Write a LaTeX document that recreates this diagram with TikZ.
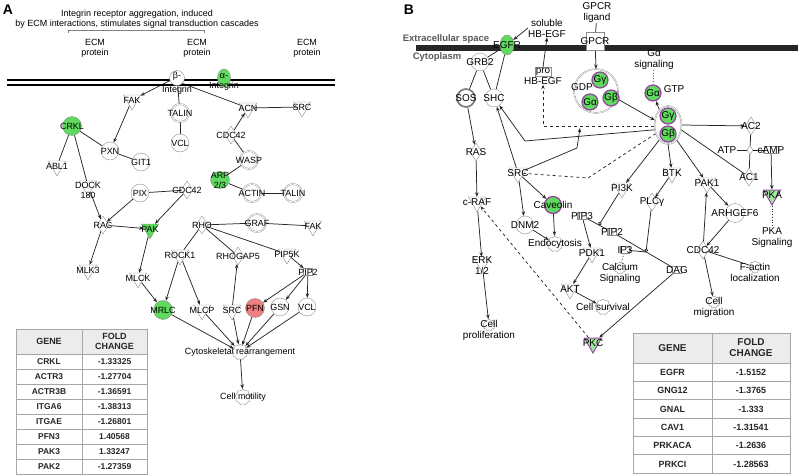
\documentclass[tikz,border=0pt]{standalone}
\usepackage{fontspec}
\setmainfont{Liberation Sans}
\usetikzlibrary{shapes.geometric,shapes.symbols,arrows.meta,backgrounds}
\definecolor{dngreen}{RGB}{95,218,95}
\definecolor{upred}{RGB}{238,128,128}
\definecolor{ringpurple}{RGB}{150,70,160}
\definecolor{nodegray}{RGB}{140,140,140}
\def\nfont{\fontsize{9}{10}\selectfont}
\def\bnf{\fontsize{10}{11}\selectfont}
\tikzset{
  every label/.style={font=\nfont, text=black, inner sep=0, align=center},
  txt/.style={font=\nfont, text=black, inner sep=0, align=center},
  cir/.style={circle, draw=nodegray, fill=white, minimum size=18, inner sep=0},
  cplx/.style={cir, double, double distance=0.8pt},
  tri/.style={regular polygon, regular polygon sides=3, shape border rotate=180, draw=nodegray, fill=white, minimum size=20, inner sep=0},
  dia/.style={diamond, draw=nodegray, fill=white, minimum width=12, minimum height=18, inner sep=0},
  chem/.style={rectangle, draw=nodegray, fill=white, minimum width=9, minimum height=7, inner sep=0},
  gear/.style={cloud, cloud puffs=9, cloud puff arc=140, aspect=1, draw=nodegray, fill=white, minimum size=16, inner sep=0},
  gprot/.style={circle, draw=ringpurple, line width=1.3, fill=dngreen, minimum size=16, inner sep=0},
  line/.style={draw=black!85, line width=0.75},
  act/.style={line, -{Stealth[length=4.5pt,width=3.5pt]}},
  dact/.style={act, dashed},
  cend/.style={line, -{Circle[open,length=3.5pt]}},
  tabh/.style={font=\bfseries\fontsize{9}{10}\selectfont, text=black!85, align=center, inner sep=0},
  tabv/.style={font=\bfseries\fontsize{8.5}{9}\selectfont, text=black!85, inner sep=0},
  frame/.style={draw=gray!70, line width=0.8}
}
\begin{document}
\begin{tikzpicture}[x=1bp, y=-1bp]
\useasboundingbox (0,0) rectangle (800,475);

% panel A: integrin signalling
\node[font=\bfseries\fontsize{14}{14}\selectfont] (pa) at (8,10) {A};
\node[txt] (title) at (137,19) {Integrin receptor aggregation, induced\\by ECM interactions, stimulates signal transduction cascades};
\draw[line, gray] (68,33) -- (68,30) -- (204,30) -- (204,33);
\node[txt] (ecm1) at (95,48) {ECM\\protein};
\node[txt] (ecm2) at (197,48) {ECM\\protein};
\node[txt] (ecm3) at (307,48) {ECM\\protein};
\draw[line width=1.4] (7,80) -- (335,80);
\draw[line width=1.4] (7,85) -- (335,85);

\node[cir, minimum size=15, label={[yshift=2]center:β-}, label={below:Integrin}] (bint) at (177,78) {};
\node[ellipse, draw=nodegray, fill=dngreen, minimum width=13, minimum height=18, inner sep=0, label={[yshift=2]center:α-}, label={[yshift=5]below:Integrin}] (aint) at (224,78) {};
\node[tri, label=center:FAK] (fak1) at (132,100) {};
\node[cplx, label=center:TALIN] (talin1) at (180,113) {};
\node[cir, label=center:VCL] (vcl1) at (180,143) {};
\node[tri, label=center:ACN] (acn) at (248,108) {};
\node[tri, label=center:SRC] (src1) at (302,107) {};
\node[dia, label=center:CDC42] (cdc1) at (231,135) {};
\node[cplx, label=center:WASP] (wasp) at (249,160) {};
\node[cir, fill=dngreen, minimum size=19, label=center:CRKL] (crkl) at (72,126) {};
\node[cir, label=center:PXN] (pxn) at (110,151) {};
\node[cir, label=center:GIT1] (git1) at (141,162) {};
\node[tri, label=center:ABL1] (abl1) at (57,166) {};
\node[tri, label={[yshift=-4]center:DOCK\\180}] (dock) at (88,186) {};
\node[cir, label=center:PIX] (pix) at (140,193) {};
\node[dia, label=center:CDC42] (cdc2) at (187,190) {};
\node[ellipse, draw=nodegray, fill=dngreen, minimum width=19, minimum height=17, inner sep=0, label=center:ARP\\2/3] (arp) at (220,180) {};
\node[cplx, label=center:ACTIN] (actin) at (252,193) {};
\node[cplx, label=center:TALIN] (talin2) at (293,193) {};
\node[dia, label=center:RAC] (rac) at (103,225) {};
\node[tri, fill=dngreen, label=center:PAK] (pak) at (150,229) {};
\node[dia, label=center:RHO] (rho) at (202,225) {};
\node[cplx, label=center:GRAF] (graf) at (257,223) {};
\node[tri, label=center:FAK] (fak2) at (313,226) {};
\node[tri, label=center:ROCK1] (rock1) at (180,255) {};
\node[dia, label=center:RHOGAP5] (rhogap) at (238,256) {};
\node[tri, label=center:PIP5K] (pip5k) at (287,254) {};
\node[chem, label=center:PIP2] (pip2a) at (308,272) {};
\node[tri, label=center:MLK3] (mlk3) at (88,270) {};
\node[tri, label=center:MLCK] (mlck) at (138,278) {};
\node[cir, fill=dngreen, minimum size=19, label=center:MRLC] (mrlc) at (163,310) {};
\node[tri, label=center:MLCP] (mlcp) at (202,310) {};
\node[tri, label=center:SRC] (src2) at (232,310) {};
\node[cir, fill=upred, minimum size=19, label=center:PFN] (pfn) at (255,308) {};
\node[cir, label=center:GSN] (gsn) at (280,307) {};
\node[cir, label=center:VCL] (vcl2) at (307,307) {};
\node[gear, label=center:Cytoskeletal rearrangement] (cyto) at (240,352) {};
\node[gear, label=center:Cell motility] (motil) at (243,397) {};

\begin{scope}[on background layer]
\draw[act] (bint.200) -- (fak1);
\draw[line] (bint.south east) -- (acn);
\draw[line] (bint) -- (talin1);
\draw[line] (talin1) -- (vcl1);
\draw[line] (src1) -- (acn);
\draw[act] (cdc1) -- (acn);
\draw[line] (cdc1) -- (wasp);
\draw[line] (wasp) -- (arp);
\draw[line] (arp) -- (actin);
\draw[line] (actin) -- (talin2);
\draw[act] (fak1) -- (pxn);
\draw[line] (crkl) -- (pxn);
\draw[line] (pxn) -- (git1);
\draw[line] (crkl) -- (abl1);
\draw[line] (crkl) -- (dock);
\draw[act] (dock) -- (rac);
\draw[act] (pix) -- (rac);
\draw[line] (pix) -- (cdc2);
\draw[act] (cdc2) -- (pak);
\draw[act] (rac) -- (pak);
\draw[act] (rac) -- (mlk3);
\draw[act] (pak) -- (mlck);
\draw[act] (mlck) -- (mrlc);
\draw[line] (rho) -- (graf);
\draw[line] (graf) -- (fak2);
\draw[line] (rho) -- (rock1);
\draw[line] (rho) -- (rhogap);
\draw[line] (rho) -- (pip5k);
\draw[act] (pip5k) -- (pip2a);
\draw[act] (rock1) -- (mrlc);
\draw[act] (rock1) -- (mlcp);
\draw[act] (src2) -- (rhogap);
\draw[act] (pip2a) -- (pfn);
\draw[act] (pip2a) -- (gsn);
\draw[act] (pip2a) -- (vcl2);
\draw[act] (mrlc) -- (cyto);
\draw[act] (mlcp) -- (cyto);
\draw[act] (src2) -- (cyto);
\draw[act] (pfn) -- (cyto);
\draw[act] (gsn) -- (cyto);
\draw[act] (vcl2) -- (cyto);
\draw[act] (cyto) -- (motil);
\end{scope}

% table A
\draw[frame, fill=gray!15] (16,329) rectangle (147,354);
\draw[frame] (16,354) rectangle (147,474);
\draw[frame] (82,329) -- (82,474);
\foreach \k in {1,...,7} \draw[frame] (16,{354+15*\k}) -- (147,{354+15*\k});
\node[tabh] (gha) at (49,341) {GENE};
\node[tabh] (fha) at (114.5,341) {FOLD\\CHANGE};
\foreach \g/\v [count=\i] in {CRKL/-1.33325, ACTR3/-1.27704, ACTR3B/-1.36591, ITGA6/-1.38313, ITGAE/-1.26801, PFN3/1.40568, PAK3/1.33247, PAK2/-1.27359} {
  \node[tabv] (ga\i) at (49,{346.5+15*\i}) {\g};
  \node[tabv] (fa\i) at (114.5,{346.5+15*\i}) {\v};
}

% panel B: EGFR and GPCR signalling
\begin{scope}[every label/.append style={font=\bnf}, txt/.append style={font=\bnf}]
\node[font=\bfseries\fontsize{14}{14}\selectfont] (pb) at (409,10) {B};
\fill[black!85] (416,45) rectangle (798,51);
\node[txt, font=\bfseries\fontsize{9.5}{10}\selectfont, text=black!65] (ext) at (446,39) {Extracellular space};
\node[txt, font=\bfseries\fontsize{9.5}{10}\selectfont, text=black!65] (cyt) at (437,57) {Cytoplasm};

\node[ellipse, draw=nodegray, fill=dngreen, minimum width=14, minimum height=20, inner sep=0, label=center:EGFR] (egfr) at (507,45) {};
\node[txt] (solhb) at (547,28) {soluble\\HB-EGF};
\node[txt, label={[name=pro, draw=nodegray, inner sep=0.6, yshift=1]above:pro}] (prohb) at (543,81) {HB-EGF};
\node[txt] (gpl) at (597,13) {GPCR\\ligand};
\node[rectangle, draw=nodegray, fill=white, minimum width=18, minimum height=18, inner sep=0, label=center:GPCR] (gpcr) at (595,41) {};
\node[cir, label=center:GRB2] (grb2) at (480,62) {};
\node[cir, label=center:SHC] (shc) at (494,98) {};
\node[cir, draw=gray, line width=1.8, label=center:SOS] (sos) at (466,98) {};
\node[dia, label=center:RAS] (ras) at (476,152) {};
\node[tri, label=center:c-RAF] (craf) at (477,202) {};
\node[tri, label={[yshift=-4]center:ERK\\1/2}] (erk) at (482,262) {};
\node[gear, minimum size=12, label={[yshift=-5]center:Cell\\proliferation}] (prolif) at (489,325) {};

\node[circle, draw=nodegray, double, fill=white, minimum size=44, inner sep=0] (gdpc) at (596,91) {};
\node[txt] (gdp) at (582,87) {GDP};
\node[gprot, label=center:Gγ] (gg1) at (600,80) {};
\node[gprot, label=center:Gα] (ga1) at (590,102) {};
\node[gprot, label=center:Gβ] (gb1) at (611,98) {};
\node[txt] (gasig) at (654,60) {Gα\\signaling};
\node[gprot, label=center:Gα, label={[xshift=2,yshift=4]right:GTP}] (gatp) at (653,93) {};
\node[ellipse, draw=nodegray, double, fill=white, minimum width=27, minimum height=38, inner sep=0] (gbc) at (668,125) {};
\node[gprot, label=center:Gγ] (gg2) at (668,116) {};
\node[gprot, label=center:Gβ] (gb2) at (668,134) {};
\node[dia, label=center:AC2] (ac2) at (751,126) {};
\node[txt] (atp) at (727,150) {ATP};
\node[dia, minimum width=6, minimum height=9] (jn) at (750,150) {};
\node[chem, minimum width=14, label=center:cAMP] (camp) at (771,150) {};
\node[dia, label=center:AC1] (ac1) at (749,177) {};
\node[tri, draw=ringpurple, line width=1, fill=dngreen!60, label=center:PKA] (pka) at (772,195) {};
\node[txt] (pkasig) at (772,238) {PKA\\Signaling};

\node[tri, label=center:SRC] (srcb) at (518,173) {};
\node[gprot, minimum size=17, label=center:Caveolin] (cav) at (553,205) {};
\node[cir, label=center:DNM2] (dnm2) at (525,225) {};
\node[gear, label=center:Endocytosis] (endo) at (555,244) {};
\node[chem, label=center:PIP3] (pip3) at (582,216) {};
\node[tri, label=center:PI3K] (pi3k) at (622,188) {};
\node[chem, label=center:PIP2] (pip2b) at (612,232) {};
\node[tri, label=center:BTK] (btk) at (672,173) {};
\node[dia, label=center:PLCγ] (plcg) at (652,202) {};
\node[tri, label=center:PAK1] (pak1) at (707,183) {};
\node[cir, minimum size=19, label=center:ARHGEF6] (arh) at (735,213) {};
\node[dia, label=center:CDC42] (cdc3) at (703,250) {};
\node[gear, minimum size=12, label={[yshift=-5]center:F-actin\\localization}] (factin) at (755,267) {};
\node[gear, minimum size=12, label={[yshift=-5]center:Cell\\migration}] (migr) at (714,302) {};
\node[chem, label=center:IP3] (ip3) at (625,250) {};
\node[gear, minimum size=12, label={[yshift=-5]center:Calcium\\Signaling}] (calc) at (620,268) {};
\node[chem, label=center:DAG] (dag) at (677,270) {};
\node[tri, label=center:PDK1] (pdk1) at (592,253) {};
\node[tri, label=center:AKT] (akt) at (570,289) {};
\node[gear, label=center:Cell survival] (surv) at (603,307) {};
\node[tri, draw=ringpurple, line width=1, fill=dngreen!60, label=center:PKC] (pkc) at (593,343) {};

\coordinate (shcb) at (525,141);
\coordinate (srcd) at (588,178);
\coordinate (hbk) at (577,148);
\coordinate (hbt) at (580,128);
\coordinate (pij) at (599,225);
\coordinate (plj) at (646,252);
\end{scope}

\begin{scope}[on background layer]
\draw[act] (solhb.west) -- (egfr);
\draw[act] (pro.north) -- (solhb.south);
\draw[line] (egfr) -- (grb2);
\draw[line] (egfr) -- (shc);
\draw[line] (grb2) -- (sos);
\draw[line] (grb2) -- (shc);
\draw[act] (sos) -- (ras);
\draw[act] (ras) -- (craf);
\draw[act] (craf) -- (erk);
\draw[act] (erk) -- (prolif);
\draw[line] (gpl) -- (gpcr);
\draw[act] (gpcr) -- (gdpc.north);
\draw[act] (gdpc.-20) -- (gbc.160);
\draw[act] (gbc.120) -- (gatp);
\draw[line, dotted] (gasig) -- (gatp);
\draw[act] (gbc.east) -- (ac2);
\draw[line] (atp) -- (jn);
\draw[line] (jn) -- (camp);
\draw[line] (ac2) -- (jn);
\draw[line] (jn) -- (ac1);
\draw[line] (gbc.-20) -- (ac1);
\draw[act] (camp) -- (pka);
\draw[line, dotted] (pka) -- (pkasig);
\draw[dact] (gbc.185) -| (prohb.south);
\draw[act] (gbc.200) -- (shcb) -- (shc);
\draw[line, dashed] (gbc.215) -- (srcd) -- (srcb);
\draw[act] (srcb) -- (hbk) -- (hbt);
\draw[act] (srcb) -- (shc);
\draw[act] (srcb) -- (cav);
\draw[act] (srcb) -- (dnm2);
\draw[act] (cav) -- (endo);
\draw[act] (dnm2) -- (endo);
\draw[act] (gbc.-120) -- (pi3k);
\draw[act] (gbc.-90) -- (btk);
\draw[act] (gbc.-60) -- (pak1);
\draw[line] (pip3) -- (pip2b);
\draw[line] (pip2b) -- (dag);
\draw[cend] (pi3k) -- (pij);
\draw[cend] (plcg) -- (plj);
\draw[line] (plj) -- (ip3);
\draw[act] (btk) -- (plcg);
\draw[line, dotted] (ip3) -- (calc);
\draw[act] (pip3) -- (pdk1);
\draw[act] (pdk1) -- (akt);
\draw[act] (akt) -- (surv);
\draw[act] (dag) -- (pkc);
\draw[dact] (pkc) -- (craf);
\draw[act] (pak1) -- (arh);
\draw[act] (arh) -- (cdc3);
\draw[act] (cdc3) -- (pak1);
\draw[act] (cdc3) -- (migr);
\draw[line] (cdc3) -- (factin);
\end{scope}

% table B
\draw[frame, fill=gray!15] (633,333) rectangle (790,363);
\draw[frame] (633,363) rectangle (790,473);
\draw[frame] (712,333) -- (712,473);
\foreach \k in {1,...,5} \draw[frame] (633,{363+18.33*\k}) -- (790,{363+18.33*\k});
\node[tabh, font=\bfseries\fontsize{10}{11}\selectfont] (ghb) at (672.5,348) {GENE};
\node[tabh, font=\bfseries\fontsize{10}{11}\selectfont] (fhb) at (751,348) {FOLD\\CHANGE};
\foreach \g/\v [count=\i] in {EGFR/-1.5152, GNG12/-1.3765, GNAL/-1.333, CAV1/-1.31541, PRKACA/-1.2636, PRKCI/-1.28563} {
  \node[tabv, font=\bfseries\fontsize{9}{10}\selectfont] (gb\i) at (672.5,{354+18.33*\i}) {\g};
  \node[tabv, font=\bfseries\fontsize{9}{10}\selectfont] (fb\i) at (751,{354+18.33*\i}) {\v};
}
\end{tikzpicture}
\end{document}
